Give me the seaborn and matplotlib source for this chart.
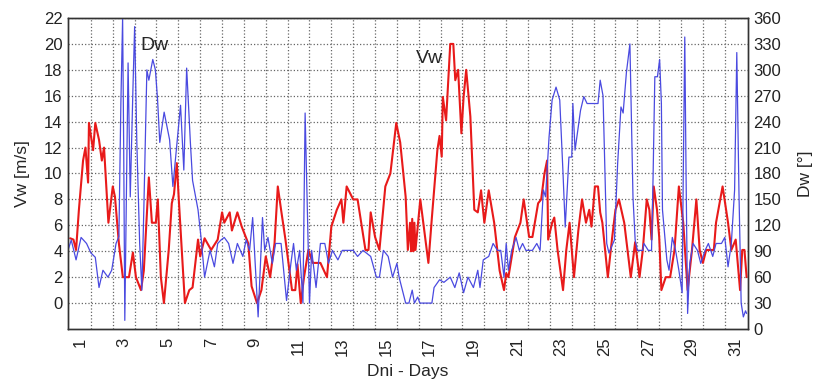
import numpy as np
import pandas as pd
import matplotlib
matplotlib.use("Agg")
import matplotlib.pyplot as plt
import seaborn as sns

# Wind speed Vw [m/s] (day, value)
vw_day = [0.55, 0.7, 0.82, 0.95, 1.14, 1.25, 1.37, 1.41, 1.6, 1.7, 1.87, 2.0, 2.1, 2.3, 2.5, 2.6,
          2.78, 2.96, 3.24, 3.42, 3.56, 3.79, 3.92, 4.15, 4.29, 4.47, 4.56, 4.7, 4.84, 5.06, 5.2, 5.3,
          5.43, 5.52, 5.8, 6.0, 6.15, 6.4, 6.5, 6.7, 7.0, 7.3, 7.5, 7.6, 7.85, 7.95, 8.2, 8.4,
          8.7, 8.85, 9.1, 9.3, 9.5, 9.7, 9.9, 10.05, 10.2, 10.4, 10.7, 10.85, 10.95, 11.1, 11.25, 11.45,
          11.65, 12.0, 12.3, 12.5, 12.75, 12.96, 13.05, 13.2, 13.5, 13.7, 14.06, 14.2, 14.3, 14.5, 14.7, 14.97,
          15.2, 15.47, 15.65, 15.9, 16.0, 16.1, 16.15, 16.2, 16.25, 16.3, 16.35, 16.57, 16.94, 17.1, 17.35, 17.45,
          17.55, 17.6, 17.75, 17.94, 18.08, 18.17, 18.3, 18.45, 18.55, 18.67, 18.86, 19.04, 19.2, 19.35, 19.5, 19.7,
          19.95, 20.2, 20.4, 20.5, 20.6, 20.9, 21.15, 21.3, 21.55, 21.7, 21.96, 22.1, 22.25, 22.37, 22.42, 22.6,
          22.7, 22.85, 23.1, 23.25, 23.4, 23.6, 23.8, 23.97, 24.15, 24.3, 24.4, 24.56, 24.7, 24.8, 24.9, 25.15,
          25.35, 25.5, 25.66, 25.9, 26.05, 26.2, 26.4, 26.6, 26.75, 26.93, 27.05, 27.15, 27.25, 27.4, 27.5, 27.6,
          27.8, 28.0, 28.2, 28.4, 28.6, 28.8, 29.0, 29.2, 29.35, 29.5, 29.65, 30.0, 30.1, 30.4, 30.65, 30.8,
          31.0, 31.2, 31.3, 31.4, 31.5]
vw = [5.0, 4.9, 4.1, 7.2, 11.0, 12.0, 9.3, 13.9, 11.8, 13.9, 12.6, 11.0, 12.0, 6.2, 9.0, 8.2,
      4.6, 2.0, 2.0, 3.9, 2.0, 1.0, 2.5, 9.7, 6.2, 6.2, 8.0, 2.0, 0.0, 4.1, 7.7, 8.4,
      10.8, 8.0, 0.0, 1.0, 1.2, 4.9, 3.6, 5.0, 4.1, 4.9, 7.0, 6.2, 7.0, 5.6, 7.0, 5.9,
      4.6, 1.3, 0.0, 1.0, 3.6, 2.0, 4.6, 9.0, 7.2, 4.9, 1.0, 1.0, 3.0, 0.0, 2.0, 4.1,
      3.1, 3.1, 2.0, 5.9, 7.2, 8.0, 6.2, 9.0, 8.0, 8.0, 4.1, 4.1, 7.0, 5.1, 4.1, 9.0,
      10.0, 13.9, 12.4, 8.2, 4.1, 6.2, 4.0, 6.5, 4.0, 6.2, 4.1, 8.0, 3.1, 6.6, 11.8, 12.9,
      11.3, 15.9, 14.1, 20.0, 20.0, 17.2, 18.0, 13.1, 15.9, 18.0, 14.4, 7.2, 7.0, 8.7, 6.2, 8.7,
      6.2, 2.5, 1.0, 2.3, 2.0, 5.1, 6.2, 8.0, 5.1, 5.1, 7.7, 8.0, 10.0, 11.0, 4.9, 6.2,
      6.6, 4.1, 1.0, 4.1, 6.2, 2.0, 5.6, 8.0, 6.2, 7.2, 5.9, 9.0, 9.0, 7.0, 6.2, 2.0,
      5.1, 7.2, 8.0, 6.2, 4.1, 2.0, 4.7, 2.0, 4.1, 8.0, 7.2, 4.9, 9.0, 7.2, 5.1, 1.0,
      2.0, 2.0, 4.1, 9.0, 6.2, 1.0, 4.1, 8.0, 4.1, 3.1, 4.1, 4.1, 6.2, 9.0, 6.2, 4.1,
      4.9, 1.0, 4.1, 4.1, 2.0]

# Wind direction Dw [deg] (day, value)
dw_day = [0.45, 0.6, 0.82, 1.05, 1.3, 1.5, 1.7, 1.87, 2.05, 2.28, 2.45, 2.65, 2.78, 2.87, 2.95, 3.0,
          3.05, 3.2, 3.3, 3.42, 3.5, 3.6, 3.73, 3.83, 3.92, 4.06, 4.15, 4.33, 4.45, 4.55, 4.65, 4.85,
          5.1, 5.25, 5.6, 5.75, 5.88, 6.05, 6.15, 6.4, 6.55, 6.7, 6.95, 7.15, 7.3, 7.45, 7.6, 7.8,
          8.0, 8.2, 8.45, 8.6, 8.76, 8.9, 9.05, 9.15, 9.35, 9.45, 9.6, 9.8, 9.95, 10.2, 10.45, 10.65,
          10.77, 10.9, 11.05, 11.2, 11.3, 11.38, 11.5, 11.6, 11.8, 12.0, 12.2, 12.37, 12.55, 12.8, 13.0, 13.3,
          13.5, 13.7, 13.95, 14.3, 14.56, 14.7, 14.88, 15.1, 15.3, 15.5, 15.6, 15.9, 16.05, 16.2, 16.3, 16.45,
          16.55, 17.1, 17.2, 17.45, 17.65, 17.94, 18.15, 18.35, 18.55, 18.75, 19.0, 19.2, 19.3, 19.45, 19.7, 19.9,
          20.1, 20.25, 20.4, 20.5, 20.6, 20.75, 20.95, 21.1, 21.25, 21.4, 21.7, 21.9, 22.05, 22.2, 22.3, 22.46,
          22.6, 22.78, 22.95, 23.1, 23.2, 23.37, 23.5, 23.55, 23.65, 23.9, 24.05, 24.2, 24.5, 24.7, 24.8, 24.93,
          25.1, 25.2, 25.45, 25.6, 25.75, 25.85, 26.0, 26.16, 26.3, 26.4, 26.5, 26.75, 26.8, 27.0, 27.15, 27.22,
          27.3, 27.42, 27.52, 27.6, 27.65, 27.85, 27.95, 28.1, 28.25, 28.4, 28.55, 28.6, 28.67, 28.73, 28.8, 28.9,
          29.05, 29.25, 29.4, 29.6, 29.75, 29.95, 30.1, 30.35, 30.5, 30.65, 30.8, 30.95, 31.05, 31.15, 31.25, 31.35,
          31.45, 31.5]
dw = [91, 103, 80, 106, 99, 88, 83, 48, 68, 60, 68, 99, 107, 261, 360, 207,
      10, 308, 153, 276, 350, 216, 99, 45, 138, 300, 288, 312, 300, 265, 216, 251,
      219, 165, 259, 184, 302, 216, 172, 138, 103, 60, 91, 72, 99, 103, 106, 99,
      76, 99, 84, 103, 91, 129, 60, 14, 129, 91, 106, 76, 99, 99, 33, 76,
      99, 68, 91, 30, 250, 161, 30, 91, 48, 99, 99, 76, 91, 80, 91, 91,
      91, 84, 91, 84, 60, 60, 91, 84, 60, 76, 60, 30, 30, 45, 30, 37,
      30, 30, 48, 57, 54, 60, 48, 65, 42, 60, 48, 68, 48, 80, 84, 99,
      91, 91, 60, 99, 68, 91, 106, 91, 99, 91, 91, 99, 91, 161, 153, 222,
      265, 280, 265, 180, 118, 199, 199, 261, 207, 253, 269, 261, 261, 261, 288, 270,
      99, 88, 103, 192, 257, 250, 297, 330, 153, 103, 91, 91, 99, 91, 91, 176,
      292, 292, 312, 261, 138, 80, 68, 106, 91, 68, 42, 176, 338, 176, 18, 76,
      99, 91, 76, 91, 99, 84, 99, 99, 106, 72, 99, 161, 320, 157, 30, 14,
      21, 18]

vw_ticks = list(range(0, 23, 2))
dw_ticks = list(range(0, 361, 30))
day_ticks = list(range(1, 32, 2))

sns.set_style("white")
plt.rcParams["font.family"] = ["Liberation Sans", "DejaVu Sans"]

fig = plt.figure(figsize=(8.17, 3.83), dpi=100)
ax = fig.add_axes([0.0832, 0.141, 0.832, 0.812])
ax2 = ax.twinx()

sns.lineplot(x=vw_day, y=vw, ax=ax, color="#e81a1a", linewidth=1.5, estimator=None)
sns.lineplot(x=dw_day, y=dw, ax=ax2, color="#4a4ae0", linewidth=0.9, estimator=None)

ax.set_xlim(0.45, 31.55)
ax.set_ylim(-2, 22)
ax2.set_ylim(0, 360)
ax.set_xticks(day_ticks)
ax.set_xticks(np.arange(1.5, 31.5, 1.0), minor=True)
ax.set_yticks(vw_ticks)
ax2.set_yticks(dw_ticks)

ax.grid(False)
ax2.grid(False)
ax.grid(True, which="minor", axis="x", linestyle=":", color="#666666", linewidth=0.9)
ax.grid(True, which="major", axis="y", linestyle=":", color="#666666", linewidth=0.9)

ax.tick_params(axis="x", which="both", length=0, labelsize=12, labelrotation=90, pad=6,
               labelcolor="#222222")
ax.tick_params(axis="y", length=0, labelsize=12, pad=4, labelcolor="#222222")
ax2.tick_params(axis="y", length=0, labelsize=12, pad=4, labelcolor="#222222")

ax.set_xlabel("Dni - Days", fontsize=12.5, labelpad=6)
ax.set_ylabel("Vw [m/s]", fontsize=12.5, labelpad=10)
ax2.set_ylabel("Dw [°]", fontsize=12.5, labelpad=12)

for a in (ax, ax2):
    for s in a.spines.values():
        s.set_color("#333333")
        s.set_linewidth(1.0)

ax.text(4.4, 19.9, "Dw", fontsize=14, ha="center", va="center")
ax.text(17.0, 18.9, "Vw", fontsize=14, ha="center", va="center")

fig.savefig("out.png", dpi=100)
